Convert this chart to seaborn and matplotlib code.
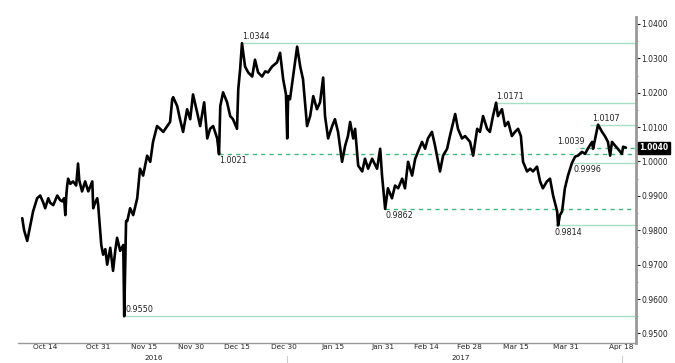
import numpy as np
import pandas as pd
import matplotlib
matplotlib.use("Agg")
import matplotlib.pyplot as plt
import matplotlib.dates as mdates
import matplotlib.transforms as mtransforms
import seaborn as sns

# ---- data (USD/CHF style series) ----
base_date = "2016-10-14"
day_offsets = [-7.4, -6.8, -5.8, -4.8, -3.9, -2.6, -1.6, -0.6, 0.0, 1.0, 1.6, 2.6, 3.9, 4.8, 5.5, 6.1, 6.5, 6.8,
               7.1, 7.4, 8.1, 9.0, 10.0, 10.6, 11.0, 11.9, 12.9, 13.9, 15.2, 15.5, 16.1, 16.8, 17.1, 18.1, 18.7,
               19.4, 20.0, 21.0, 21.9, 22.6, 23.2, 24.2, 25.2, 25.5, 26.1, 26.5, 27.4, 28.4, 29.7, 30.6, 31.6,
               32.9, 33.9, 34.8, 36.1, 37.1, 38.1, 39.4, 40.3, 41.0, 41.3, 42.6, 43.5, 44.5, 45.8, 46.8, 47.7,
               49.0, 50.0, 51.3, 52.3, 53.2, 54.2, 55.5, 56.1, 56.5, 57.4, 58.7, 59.7, 60.6, 61.9, 62.3, 62.9,
               63.5, 64.5, 65.5, 66.8, 67.7, 68.7, 70.0, 71.0, 71.9, 73.2, 74.8, 75.8, 76.8, 77.7, 78.1, 78.4,
               79.0, 80.0, 81.3, 82.3, 83.2, 84.5, 85.5, 86.5, 87.7, 88.7, 89.7, 90.3, 91.3, 92.6, 93.5, 94.5,
               95.8, 96.8, 97.7, 98.4, 99.4, 100.0, 101.0, 102.3, 103.2, 104.2, 105.5, 107.1, 108.1, 108.7,
               109.7, 110.6, 111.9, 112.9, 113.9, 115.2, 116.1, 117.1, 118.4, 119.4, 120.3, 121.6, 122.6,
               123.5, 124.8, 125.8, 127.4, 128.4, 129.7, 130.6, 132.3, 133.2, 134.5, 135.5, 137.1, 138.1,
               139.4, 140.3, 141.3, 142.6, 143.5, 144.5, 145.5, 146.1, 147.4, 148.4, 149.4, 150.6, 151.6,
               152.6, 153.5, 154.2, 155.5, 156.5, 157.4, 158.7, 159.7, 160.6, 161.9, 162.9, 163.9, 165.2,
               165.5, 166.1, 166.8, 167.7, 168.7, 170.0, 171.0, 171.9, 173.2, 174.2, 175.2, 176.5, 176.8,
               178.1, 178.4, 179.7, 180.6, 181.6, 182.3, 182.9, 183.9, 184.8, 186.1, 186.5, 187.4]
prices = [0.9835, 0.9800, 0.9769, 0.9815, 0.9855, 0.9893, 0.9901, 0.9880, 0.9864, 0.9893, 0.9880, 0.9873, 0.9901,
          0.9888, 0.9884, 0.9893, 0.9844, 0.9900, 0.9930, 0.9950, 0.9935, 0.9942, 0.9930, 0.9994, 0.9945, 0.9913,
          0.9942, 0.9913, 0.9942, 0.9864, 0.9880, 0.9893, 0.9873, 0.9757, 0.9729, 0.9745, 0.9700, 0.9749, 0.9682,
          0.9740, 0.9778, 0.9740, 0.9757, 0.9550, 0.9827, 0.9827, 0.9864, 0.9844, 0.9893, 0.9979, 0.9959, 1.0017,
          0.9999, 1.0057, 1.0103, 1.0095, 1.0086, 1.0103, 1.0115, 1.0181, 1.0187, 1.0161, 1.0123, 1.0086, 1.0152,
          1.0123, 1.0195, 1.0144, 1.0103, 1.0172, 1.0067, 1.0095, 1.0103, 1.0067, 1.0021, 1.0161, 1.0201, 1.0172,
          1.0132, 1.0123, 1.0095, 1.0210, 1.0267, 1.0344, 1.0276, 1.0259, 1.0247, 1.0296, 1.0259, 1.0247, 1.0262,
          1.0259, 1.0276, 1.0288, 1.0316, 1.0239, 1.0195, 1.0067, 1.0190, 1.0181, 1.0247, 1.0334, 1.0276, 1.0239,
          1.0103, 1.0132, 1.0190, 1.0152, 1.0172, 1.0244, 1.0132, 1.0067, 1.0103, 1.0123, 1.0086, 0.9999, 1.0046,
          1.0074, 1.0115, 1.0067, 1.0095, 0.9988, 0.9971, 1.0008, 0.9979, 1.0008, 0.9979, 1.0037, 0.9959, 0.9862,
          0.9922, 0.9893, 0.9930, 0.9922, 0.9950, 0.9922, 0.9999, 0.9959, 1.0008, 1.0028, 1.0057, 1.0037, 1.0067,
          1.0086, 1.0046, 0.9971, 1.0017, 1.0037, 1.0074, 1.0138, 1.0095, 1.0067, 1.0074, 1.0057, 1.0017, 1.0095,
          1.0086, 1.0132, 1.0095, 1.0086, 1.0132, 1.0171, 1.0132, 1.0152, 1.0103, 1.0115, 1.0074, 1.0086, 1.0095,
          1.0074, 0.9999, 0.9971, 0.9979, 0.9971, 0.9985, 0.9942, 0.9922, 0.9942, 0.9950, 0.9901, 0.9855, 0.9814,
          0.9844, 0.9855, 0.9922, 0.9959, 0.9996, 1.0014, 1.0017, 1.0028, 1.0022, 1.0039, 1.0057, 1.0037, 1.0095,
          1.0107, 1.0086, 1.0074, 1.0057, 1.0017, 1.0057, 1.0046, 1.0037, 1.0022, 1.0043, 1.0040]

level_values = [1.0344, 1.0171, 1.0107, 1.0039, 1.0021, 0.9996, 0.9862, 0.9814, 0.9550]
level_start_days = [63.5, 145.5, 175.8, 172.6, 56.1, 170.0, 109.7, 164.5, 25.2]
level_dashed = [False, False, False, True, True, False, True, False, False]
level_label_days = [63.5, 145.5, 176.5, 165.2, 56.1, 170.5, 109.7, 164.5, 25.8]
level_label_above = [True, True, True, True, False, False, False, False, True]

last_value = 1.0040
x_tick_labels = ["Oct 14", "Oct 31", "Nov 15", "Nov 30", "Dec 15", "Dec 30", "Jan 15",
                 "Jan 31", "Feb 14", "Feb 28", "Mar 15", "Mar 31", "Apr 18"]
x_tick_dates = ["2016-10-14", "2016-10-31", "2016-11-15", "2016-11-30", "2016-12-15", "2016-12-30",
                "2017-01-15", "2017-01-31", "2017-02-14", "2017-02-28", "2017-03-15", "2017-03-31", "2017-04-18"]
year_labels = ["2016", "2017"]
year_label_dates = ["2016-11-18", "2017-02-25"]
y_ticks = [0.95, 0.96, 0.97, 0.98, 0.99, 1.00, 1.01, 1.02, 1.03, 1.04]

# ---- figure ----
sns.set_style("white")
plt.rcParams["font.family"] = ["DejaVu Sans"]

fig = plt.figure(figsize=(6.75, 3.63), dpi=100)
ax = fig.add_axes([0.027, 0.055, 0.915, 0.898])

base = pd.Timestamp(base_date)
to_date = lambda d: base + pd.to_timedelta(d, unit="D")
df = pd.DataFrame({"date": [to_date(d) for d in day_offsets], "price": prices})

xmin, xmax = to_date(-8.7), to_date(190.6)

solid_col = "#a8dec6"
dash_col = "#3dba7c"

for val, sd, dashed, ld, above in zip(level_values, level_start_days, level_dashed,
                                       level_label_days, level_label_above):
    ax.hlines(val, to_date(sd), xmax, colors=dash_col if dashed else solid_col,
              linestyles=(0, (3, 3)) if dashed else "solid", linewidth=1.0, zorder=1)
    ax.annotate(f"{val:.4f}", xy=(to_date(ld), val), xytext=(0, 1.5 if above else -1.5),
                textcoords="offset points", ha="left", va="bottom" if above else "top",
                fontsize=5.8, color="#222222", zorder=4)

sns.lineplot(data=df, x="date", y="price", ax=ax, color="black", linewidth=1.9,
             estimator=None, sort=False, zorder=3)

ax.set_xlim(xmin, xmax)
ax.set_ylim(0.9472, 1.042)
ax.set_xlabel("")
ax.set_ylabel("")

# y axis on the right
ax.yaxis.tick_right()
ax.set_yticks(y_ticks)
ax.set_yticklabels([f"{v:.4f}" for v in y_ticks])
ax.set_yticks([v + 0.005 for v in y_ticks[:-1]], minor=True)
ax.tick_params(axis="y", which="major", direction="out", length=3, width=0.8, pad=1,
               labelsize=5.5, colors="#222222", right=True, left=False)
ax.tick_params(axis="y", which="minor", direction="out", length=1.5, width=0.6,
               colors="#888888", right=True, left=False)

# x ticks: labels centred on dates, minor tick marks between
tick_dates = [pd.Timestamp(t) for t in x_tick_dates]
ax.set_xticks(tick_dates)
ax.set_xticklabels(x_tick_labels)
mids = [tick_dates[i] + (tick_dates[i + 1] - tick_dates[i]) / 2 for i in range(len(tick_dates) - 1)]
mids = [tick_dates[0] - (tick_dates[1] - tick_dates[0]) / 2] + mids
ax.set_xticks(mids, minor=True)
ax.tick_params(axis="x", which="major", length=0, pad=1.0, labelsize=5.3, colors="#222222")
ax.tick_params(axis="x", which="minor", direction="inout", length=3, width=0.6, colors="#888888")

for lab, d in zip(year_labels, year_label_dates):
    ax.text(pd.Timestamp(d), -0.036, lab, transform=ax.get_xaxis_transform(),
            ha="center", va="top", fontsize=5.2, color="#222222", clip_on=False)

for d in ["2016-12-31", "2017-04-18"]:
    ax.plot([pd.Timestamp(d)] * 2, [-0.04, -0.06], transform=ax.get_xaxis_transform(),
            color="#cccccc", lw=0.8, clip_on=False)

for s in ["top", "left"]:
    ax.spines[s].set_visible(False)
ax.spines["right"].set_color("#999999")
ax.spines["right"].set_linewidth(2.0)
ax.spines["bottom"].set_color("#999999")
ax.spines["bottom"].set_linewidth(1.0)
ax.grid(False)

# last value box
trans = mtransforms.blended_transform_factory(ax.transAxes, ax.transData)
ax.text(1.006, last_value, f"{last_value:.4f}", transform=trans, ha="left", va="center",
        fontsize=5.5, color="white", fontweight="bold",
        bbox=dict(boxstyle="square,pad=0.2", fc="black", ec="black"), clip_on=False, zorder=5)

fig.savefig("out.png", dpi=100)
